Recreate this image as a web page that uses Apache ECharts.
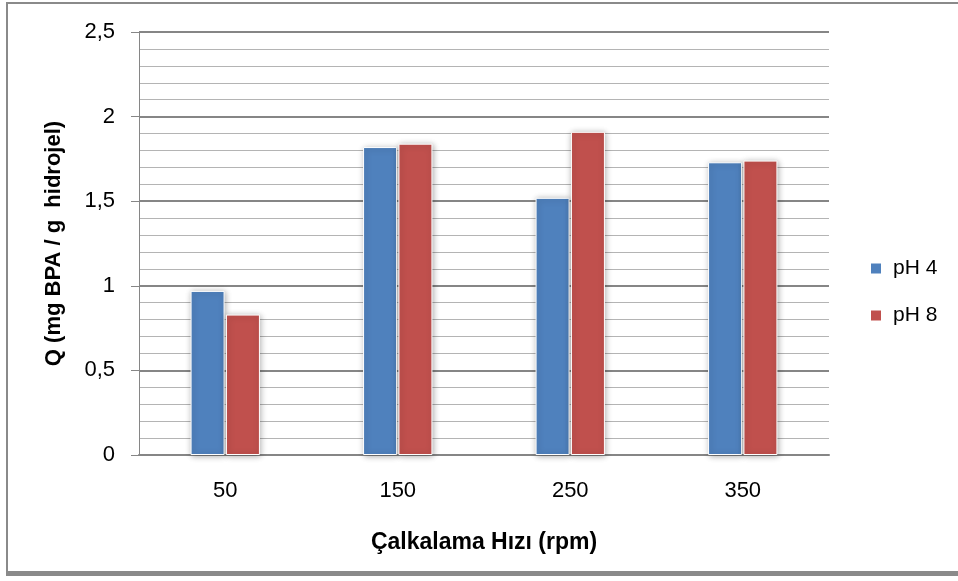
<!DOCTYPE html>
<html>
<head>
<meta charset="utf-8">
<script src="https://cdn.jsdelivr.net/npm/echarts@6/dist/echarts.min.js"></script>
<style>
  html, body { margin: 0; padding: 0; background: #fff; }
  #wrap { position: relative; width: 958px; height: 581px; overflow: hidden; }
  #chart { position: absolute; left: 0; top: 0; width: 958px; height: 581px; }
  #frame { position: absolute; left: 6px; top: 2px; width: 960px; height: 574px;
           border-top: 2px solid #8a8a8a; border-left: 2px solid #8a8a8a; border-bottom: 5px solid #8a8a8a;
           pointer-events: none; box-sizing: border-box; }
</style>
</head>
<body>
<div id="wrap">
  <div id="chart"></div>
  <div id="frame"></div>
</div>
<script>
const categories = ['50', '150', '250', '350'];
const seriesNames = ['pH 4', 'pH 8'];
const ph4Values = [0.97, 1.82, 1.52, 1.73];
const ph8Values = [0.83, 1.84, 1.91, 1.74];
const seriesColors = ['#4F81BD', '#C0504D'];
const xAxisTitle = 'Çalkalama Hızı (rpm)';
const yAxisTitle = 'Q (mg BPA / g  hidrojel)';

const FONT = '"Liberation Sans", Arial, sans-serif';
const chart = echarts.init(document.getElementById('chart'), null, { renderer: 'canvas' });

function barSeries(name, data, color) {
  return {
    name: name,
    type: 'bar',
    data: data,
    barWidth: 34,
    barGap: '4%',
    itemStyle: {
      color: color,
      borderColor: '#ffffff',
      borderWidth: 1,
      shadowBlur: 6,
      shadowColor: 'rgba(0,0,0,0.32)',
      shadowOffsetX: 1,
      shadowOffsetY: 1
    },
    emphasis: { disabled: true }
  };
}

chart.setOption({
  backgroundColor: '#ffffff',
  animation: false,
  grid: { left: 139, right: 129, top: 32, bottom: 126, containLabel: false },
  legend: {
    orient: 'vertical',
    left: 864,
    top: 253,
    itemWidth: 12,
    itemHeight: 12,
    itemGap: 26,
    icon: 'rect',
    data: seriesNames,
    textStyle: { fontFamily: FONT, fontSize: 21, color: '#000', padding: [0, 0, 0, 6] }
  },
  xAxis: {
    type: 'category',
    data: categories,
    name: xAxisTitle,
    nameLocation: 'middle',
    nameGap: 76,
    nameTextStyle: { fontFamily: FONT, fontSize: 23, fontWeight: 'bold', color: '#000' },
    axisLine: { show: true, lineStyle: { color: '#868686', width: 2 } },
    axisTick: { show: false },
    axisLabel: { fontFamily: FONT, fontSize: 22, color: '#000', margin: 25 },
    splitLine: { show: false }
  },
  yAxis: {
    type: 'value',
    min: 0,
    max: 2.5,
    interval: 0.5,
    name: yAxisTitle,
    nameLocation: 'middle',
    nameGap: 74,
    nameRotate: 90,
    nameTextStyle: { fontFamily: FONT, fontSize: 22, fontWeight: 'bold', color: '#000' },
    axisLine: { show: true, lineStyle: { color: '#868686', width: 1 } },
    axisTick: { show: true, length: 8, lineStyle: { color: '#868686' } },
    axisLabel: {
      fontFamily: FONT, fontSize: 22, color: '#000', margin: 24,
      formatter: v => String(v).replace('.', ',')
    },
    splitLine: { show: true, lineStyle: { color: '#868686', width: 2 } },
    minorTick: { show: false, splitNumber: 5 },
    minorSplitLine: { show: true, lineStyle: { color: '#b4b4b4', width: 1 } }
  },
  series: [
    barSeries(seriesNames[0], ph4Values, seriesColors[0]),
    barSeries(seriesNames[1], ph8Values, seriesColors[1])
  ]
});
</script>
</body>
</html>
